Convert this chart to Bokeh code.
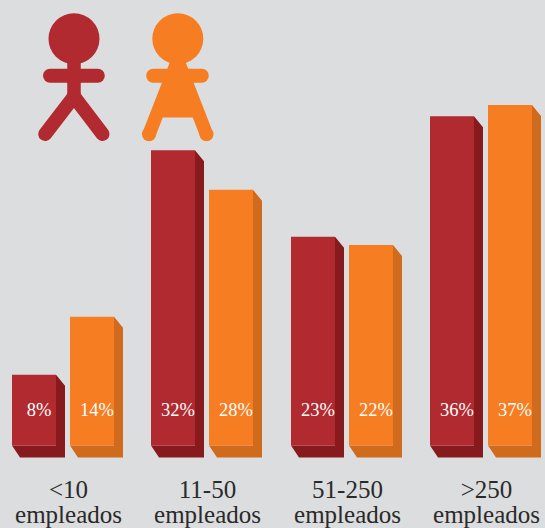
from bokeh.plotting import figure
from bokeh.models import Range1d
from bokeh.embed import file_html
from bokeh.resources import INLINE
from bokeh.core.properties import value

categories = [["<10", "empleados"], ["11-50", "empleados"], ["51-250", "empleados"], [">250", "empleados"]]
men = [7.7, 32.1, 22.7, 35.8]
women = [14.0, 27.8, 21.8, 37.0]
men_labels = ["8%", "32%", "23%", "36%"]
women_labels = ["14%", "28%", "22%", "37%"]

BG = "#dcddde"
RED, RED_D = "#b02a30", "#861a1c"
ORG, ORG_D = "#f67d22", "#d06a1c"
FONT = "Liberation Serif"
INK = "#2a2a2a"

W, H = 545, 528
BASE = 445          # baseline pixel row
PX = 9.2            # pixels per percentage point
BW, DX, DY = 44, 9, 12

p = figure(width=W, height=H, x_range=Range1d(0, W),
           y_range=Range1d(-(H - BASE) / PX, BASE / PX),
           output_backend="svg", toolbar_location=None, min_border=0,
           background_fill_color=BG, border_fill_color=BG, outline_line_color=None)
p.extra_y_ranges = {"px": Range1d(H, 0)}
p.axis.visible = False
p.grid.visible = False

starts_m = [11.5, 150.5, 290.5, 429.5]
starts_w = [69.5, 208.5, 348.5, 487.5]


def bars(starts, vals, texts, col, dark):
    xs, ys = [], []
    for x0, v in zip(starts, vals):
        xs.append([x0 + BW, x0 + BW + DX, x0 + BW + DX, x0 + 8, x0, x0 + BW])
        ys.append([v, v - 11 / PX, -DY / PX, -DY / PX, 0, 0])
    p.patches(xs, ys, fill_color=dark, line_color=None)
    p.vbar(x=[s + BW / 2 for s in starts], top=vals, bottom=0, width=BW,
           fill_color=col, line_color=None)
    p.text([s + BW / 2 + 5 for s in starts], [409] * len(starts), text=texts, y_range_name="px",
           text_color="white", text_font=value(FONT), text_font_size="18.5px",
           text_align="center", text_baseline="middle")


bars(starts_m, men, men_labels, RED, RED_D)
bars(starts_w, women, women_labels, ORG, ORG_D)

for s, lines in zip(starts_m, categories):
    cx = s + 56.5
    for ln, yy in zip(lines, [489, 514]):
        p.text([cx], [yy], text=[ln], y_range_name="px", text_color=INK,
               text_font=value(FONT), text_font_size="25px",
               text_align="center", text_baseline="middle")

# male icon
p.circle([73.5], [38.3], radius=25.5, y_range_name="px", fill_color=RED, line_color=None)
p.line([73.5, 73.5], [60, 96], y_range_name="px", line_color=RED, line_width=13.5)
p.line([49.5, 97.3], [75.3, 75.3], y_range_name="px", line_color=RED, line_width=14, line_cap="round")
p.line([44.7, 73.5, 102], [133.5, 96, 133.5], y_range_name="px", line_color=RED, line_width=14,
       line_cap="round", line_join="miter")

# female icon
p.circle([177.3], [38.3], radius=25.5, y_range_name="px", fill_color=ORG, line_color=None)
p.line([152.7, 201.3], [75.3, 75.3], y_range_name="px", line_color=ORG, line_width=14, line_cap="round")
p.patch([170, 184.5, 193, 212.5, 200, 192.3, 162.3, 154.5, 142, 161.5],
        [60, 60, 82, 132, 137, 117, 117, 137, 132, 82],
        y_range_name="px", fill_color=ORG, line_color=None)
p.circle([148.5, 206], [133.8, 133.8], radius=7, y_range_name="px", fill_color=ORG, line_color=None)

html = file_html(p, INLINE)
html = html.replace("</head>", "<style>html,body{margin:0;padding:0;overflow:hidden;background:%s}</style></head>" % BG, 1)
open("out.html", "w").write(html)
